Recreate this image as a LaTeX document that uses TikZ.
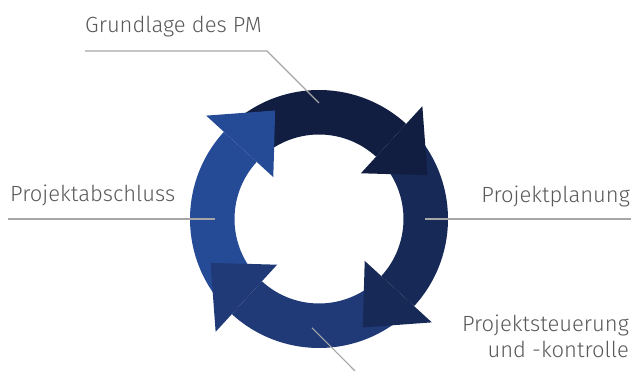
\documentclass[tikz,border=0pt]{standalone}
\usepackage{fontspec}
\setmainfont{Fira Sans Light}
\usepackage{tikz}
\usetikzlibrary{calc}
\definecolor{pmnavy}{HTML}{121D42}
\definecolor{pmdark}{HTML}{172957}
\definecolor{pmmid}{HTML}{1F3A77}
\definecolor{pmblue}{HTML}{264B96}
\definecolor{pmtext}{HTML}{595959}
\definecolor{pmline}{HTML}{A6A6A6}

\begin{document}
\begin{tikzpicture}
[x=1pt,y=1pt,
 phase/.style={text=pmtext,font=\fontsize{22}{26}\selectfont,inner sep=0pt},
 leader/.style={draw=pmline,line width=1.1pt}]
\useasboundingbox (0,0) rectangle (631,371);
\coordinate (C) at (319,152);
% ring: all bodies first, then the heads over the next tail
\begin{scope}[shift={(C)}]
\foreach \b/\col in {47.5/pmnavy,-42.5/pmdark,-132.5/pmmid,137.5/pmblue}
  \fill[\col] (\b+82.5:129) arc[start angle=\b+82.5,end angle=\b,radius=129]
    -- (\b:84.5) arc[start angle=\b,end angle=\b+82.5,radius=84.5] -- cycle;
\foreach \b/\col in {47.5/pmnavy,-42.5/pmdark,-132.5/pmmid,137.5/pmblue}
  \fill[\col] (\b:153) -- (\b-25.5:117) -- (\b:62) -- cycle;
\end{scope}
\node[phase,anchor=base west] (grundlage) at (85,338) {Grundlage des PM};
\node[phase,anchor=base west] (abschluss) at (10,169) {Projektabschluss};
\node[phase,anchor=base east] (planung)   at (630,168) {Projektplanung};
\node[phase,anchor=base east] (steuerung) at (629,39) {Projektsteuerung};
\node[phase,anchor=base east] (kontrolle) at (629,13) {und -kontrolle};
\coordinate (grundStart) at (85,320);
\coordinate (grundKnee)  at (267,320);
\coordinate (grundEnd)   at ($(C)+(90:116)$);
\coordinate (abschStart) at (8,152);
\coordinate (abschEnd)   at ($(C)+(180:104)$);
\coordinate (planEnd)    at ($(C)+(0:106)$);
\coordinate (planStart)  at (631,152);
\coordinate (steuEnd)    at ($(C)+(-93.7:109)$);
\coordinate (steuStart)  at (355,0);
\path[leader] (grundStart) -- (grundKnee) -- (grundEnd)
      (abschStart) edge (abschEnd)
      (planEnd)    edge (planStart)
      (steuEnd)    edge (steuStart);
\end{tikzpicture}
\end{document}
